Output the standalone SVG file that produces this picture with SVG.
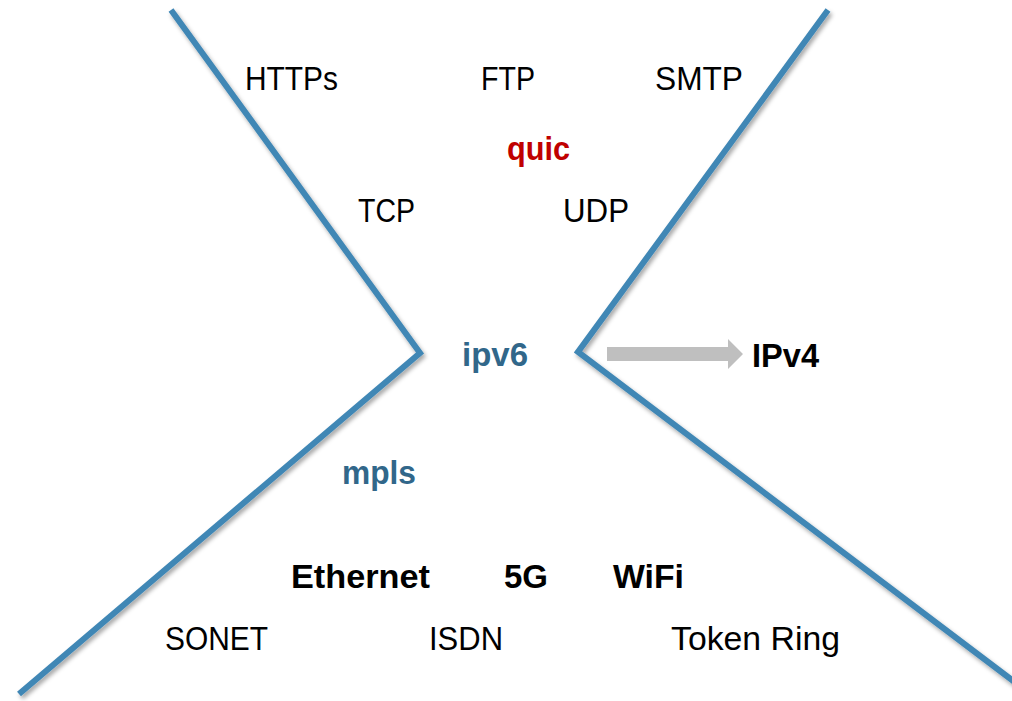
<svg xmlns="http://www.w3.org/2000/svg" width="1012" height="701" viewBox="0 0 1012 701">
<defs>
<filter id="sh" x="-10%" y="-10%" width="120%" height="120%">
<feDropShadow dx="2" dy="3" stdDeviation="2" flood-color="#000" flood-opacity="0.35"/>
</filter>
<style>
.t{font-family:"Liberation Sans",Arial,sans-serif;font-size:33px;fill:#000}
.b{font-weight:bold}
.blue{fill:#31678A}
.red{fill:#C00000}
.ln{fill:none;stroke:#4187B5;stroke-width:6;stroke-linejoin:miter;filter:url(#sh)}
</style>
</defs>
<rect width="1012" height="701" fill="#fff"/>
<g id="connectors">
<polyline class="ln" points="171,10 420,353 19,694"/>
<polyline class="ln" points="828,10 578,352 1016,683"/>
<polygon id="arrow" fill="#BFBFBF" points="607,347 728,347 728,339 743,354 728,369 728,361 607,361"/>
</g>
<g id="n-https"><text class="t" x="245" y="90" textLength="93" lengthAdjust="spacingAndGlyphs">HTTPs</text></g>
<g id="n-ftp"><text class="t" x="481" y="90" textLength="54" lengthAdjust="spacingAndGlyphs">FTP</text></g>
<g id="n-smtp"><text class="t" x="655" y="90" textLength="88" lengthAdjust="spacingAndGlyphs">SMTP</text></g>
<g id="n-quic"><text class="t b red" x="507" y="160" textLength="63" lengthAdjust="spacingAndGlyphs">quic</text></g>
<g id="n-tcp"><text class="t" x="358" y="222" textLength="57" lengthAdjust="spacingAndGlyphs">TCP</text></g>
<g id="n-udp"><text class="t" x="563" y="222" textLength="66" lengthAdjust="spacingAndGlyphs">UDP</text></g>
<g id="n-ipv6"><text class="t b blue" x="462" y="366" textLength="66" lengthAdjust="spacingAndGlyphs">ipv6</text></g>
<g id="n-ipv4"><text class="t b" x="752" y="367" textLength="67" lengthAdjust="spacingAndGlyphs">IPv4</text></g>
<g id="n-mpls"><text class="t b blue" x="342" y="484" textLength="74" lengthAdjust="spacingAndGlyphs">mpls</text></g>
<g id="n-ethernet"><text class="t b" x="291" y="588" textLength="139" lengthAdjust="spacingAndGlyphs">Ethernet</text></g>
<g id="n-5g"><text class="t b" x="504" y="588" textLength="44" lengthAdjust="spacingAndGlyphs">5G</text></g>
<g id="n-wifi"><text class="t b" x="613" y="588" textLength="71" lengthAdjust="spacingAndGlyphs">WiFi</text></g>
<g id="n-sonet"><text class="t" x="165" y="650" textLength="103" lengthAdjust="spacingAndGlyphs">SONET</text></g>
<g id="n-isdn"><text class="t" x="429" y="650" textLength="74" lengthAdjust="spacingAndGlyphs">ISDN</text></g>
<g id="n-tokenring"><text class="t" x="671" y="650" textLength="169" lengthAdjust="spacingAndGlyphs">Token Ring</text></g>
</svg>
